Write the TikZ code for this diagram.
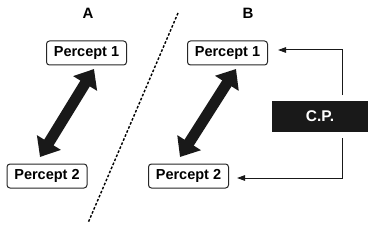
\documentclass[tikz,border=0pt]{standalone}
\usepackage{fontspec}
\setmainfont{Liberation Sans}
\usetikzlibrary{arrows.meta}
\begin{document}
\begin{tikzpicture}[x=1pt,y=-1pt,
  percept/.style={draw=black!85, line width=1pt, rounded corners=3pt, fill=white,
    minimum width=80pt, minimum height=24pt, inner sep=0pt, font=\fontsize{14.5}{16}\selectfont\bfseries},
  lab/.style={font=\fontsize{15}{17}\selectfont\bfseries},
  cpbox/.style={fill=black!90, draw=black!55, double=white, double distance=1.3pt, line width=0.8pt,
    minimum width=98pt, minimum height=33pt, inner sep=0pt, text=white, font=\fontsize{15.5}{17}\selectfont\bfseries},
  bigarrow/.style={line width=11pt, color=black!90, {Triangle[length=17pt,width=27pt]}-{Triangle[length=17pt,width=27pt]}},
  feed/.style={line width=1pt, color=black!90, -{Triangle[length=8pt,width=5.5pt]}}
]
\useasboundingbox (0,0) rectangle (371,227);
\node[lab] (la) at (88,13) {A};
\node[lab] (lb) at (248,13) {B};
\node[percept] (p1a) at (86.5,53) {Percept 1};
\node[percept] (p2a) at (47,176) {Percept 2};
\node[percept] (p1b) at (227.5,53) {Percept 1};
\node[percept] (p2b) at (188.5,176) {Percept 2};
\node[cpbox] (cp) at (320,116.5) {C.P.};
\coordinate (d1) at (178,13);
\coordinate (d2) at (88,223);
\draw[line width=1.4pt, dash pattern=on 2.6pt off 1.8pt] (d1) -- (d2);
\coordinate (a1) at (94,69);
\coordinate (a2) at (40,157);
\coordinate (b1) at (236,69);
\coordinate (b2) at (180,157);
\draw[bigarrow] (a2) -- (a1);
\draw[bigarrow] (b2) -- (b1);
\coordinate (cpt) at (342,95);
\coordinate (cpb) at (342,138);
\coordinate (t1) at (278,50);
\coordinate (t2) at (237,178);
\draw[feed] (cpt) |- (t1);
\draw[feed] (cpb) |- (t2);
\end{tikzpicture}
\end{document}
